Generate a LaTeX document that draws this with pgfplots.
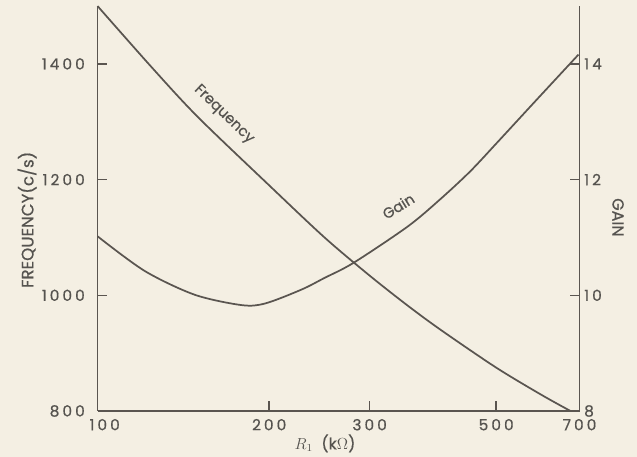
\documentclass[border=0pt]{standalone}
\usepackage{fontspec}
\setmainfont{Poppins}
\newfontfamily\spaced[LetterSpace=20,FakeBold=0.6]{Poppins}
\newfontfamily\lab[FakeBold=0.6]{Poppins}
\usepackage{pgfplots}
\pgfplotsset{compat=1.18}
\definecolor{paper}{HTML}{F4EFE3}
\definecolor{ink}{HTML}{5A5550}
\definecolor{txt}{HTML}{55534F}

\begin{document}
\begin{tikzpicture}
\path[use as bounding box,fill=paper] (-73.125pt,-34.5pt) rectangle (404.625pt,308.25pt);
\begin{axis}[scale only axis,width=361.5pt,height=303.75pt,
 xmode=log,xmin=100,xmax=700,ymin=800,ymax=1500,clip=false,tick align=inside,
 axis line style={ink,line width=1.2pt},tick style={ink,line width=1.1pt},
 major tick length=7.5pt,
 tick label style={font=\spaced\fontsize{11.5}{12}\selectfont,text=txt},
 xticklabel style={yshift=-2.5pt},yticklabel style={xshift=-6pt},
 axis x line*=bottom,axis y line*=left,
 xtick={100,200,300,500,700},
 xticklabels={\makebox[0pt][l]{\hspace{-6pt}100},200,300,500,700},
 ytick={800,1000,1200,1400},yticklabels={800,1000,1200,1400}]
% frequency (c/s) against R1 (kOhm)
\addplot[ink,line width=1.3pt,smooth] coordinates {
 (100,1500) (125,1392) (150,1308) (200,1190) (250,1100) (300,1034)
 (350,982) (400,940) (500,875) (600,828) (675,800)};
\node[rotate=-44,text=txt,font=\lab\fontsize{11}{12}\selectfont] at (axis description cs:0.262,0.732) {Frequency};
\node[rotate=32,text=txt,font=\lab\fontsize{11}{12}\selectfont] at (axis description cs:0.624,0.506) {Gain};
\node[rotate=90,text=txt,font=\lab\fontsize{12.5}{12}\selectfont] at (axis description cs:-0.146,0.472) {FREQUENCY(c/s)};
\node[text=txt,font=\lab\fontsize{12}{12}\selectfont] at (axis description cs:0.472,-0.080) {$R_1$\ \ (k$\Omega$)};
\node[rotate=-90,text=txt,font=\lab\fontsize{12}{12}\selectfont] at (axis description cs:1.08,0.478) {GAIN};
\end{axis}
\begin{axis}[scale only axis,width=361.5pt,height=303.75pt,
 xmode=log,xmin=100,xmax=700,ymin=8,ymax=15,clip=false,tick align=inside,
 axis line style={ink,line width=1.2pt},tick style={ink,line width=1.1pt},
 major tick length=7.5pt,
 tick label style={font=\spaced\fontsize{11.5}{12}\selectfont,text=txt},
 axis x line=none,axis y line*=right,
 ytick={8,10,12,14},yticklabels={8,10,12,14}]
% gain against R1 (kOhm)
\addplot[ink,line width=1.3pt,smooth] coordinates {
 (100,11.02) (121,10.42) (148,10.01) (179,9.83) (197,9.86) (228,10.10)
 (250,10.30) (281,10.56) (350,11.19) (399,11.66) (450,12.14) (502,12.64)
 (590,13.39) (697,14.16)};
\end{axis}
\end{tikzpicture}
\end{document}
